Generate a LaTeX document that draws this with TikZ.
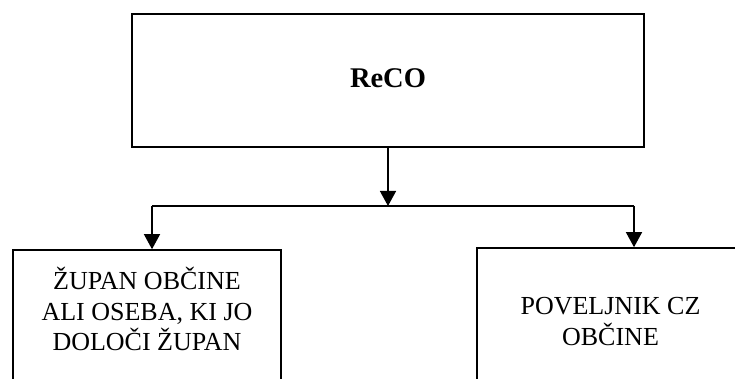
\documentclass[tikz,border=0pt]{standalone}
\usepackage{fontspec}
\setmainfont{Liberation Serif}
\usetikzlibrary{arrows.meta}
\begin{document}
\begin{tikzpicture}[x=1pt,y=1pt,
  box/.style={draw=black,line width=1.6pt,inner sep=0pt,fill=white},
  conn/.style={draw=black,line width=1.4pt},
  arr/.style={conn,-{Triangle[width=16pt,length=15pt]}},
  txt/.style={inner sep=0pt,align=center,font=\fontsize{26}{30.5}\selectfont}]
\useasboundingbox (0,0) rectangle (735,379);
\clip (0,0) rectangle (735,379);
\node[box,minimum width=512pt,minimum height=133pt] (top) at (388,298.5) {};
\node[inner sep=0pt,anchor=base,font=\bfseries\fontsize{28.5}{33}\selectfont] (reco) at (388,291) {ReCO};
\node[box,minimum width=268pt,minimum height=160pt] (left) at (147,49) {};
\node[box,minimum width=268pt,minimum height=160pt] (right) at (611,51) {};
\node[txt] (lt) at (147,70) {ŽUPAN OBČINE\\ALI OSEBA, KI JO\\DOLOČI ŽUPAN};
\node[txt] (rt) at (610.5,57.5) {POVELJNIK CZ\\OBČINE};
\coordinate (jc) at (388,173);
\coordinate (jl) at (152,173);
\coordinate (jr) at (634,173);
\draw[conn] (jl) -- (jr);
\draw[arr] (top.south) -- (jc);
\draw[arr] (jl) -- (jl |- left.north);
\draw[arr] (jr) -- (jr |- right.north);
\end{tikzpicture}
\end{document}
